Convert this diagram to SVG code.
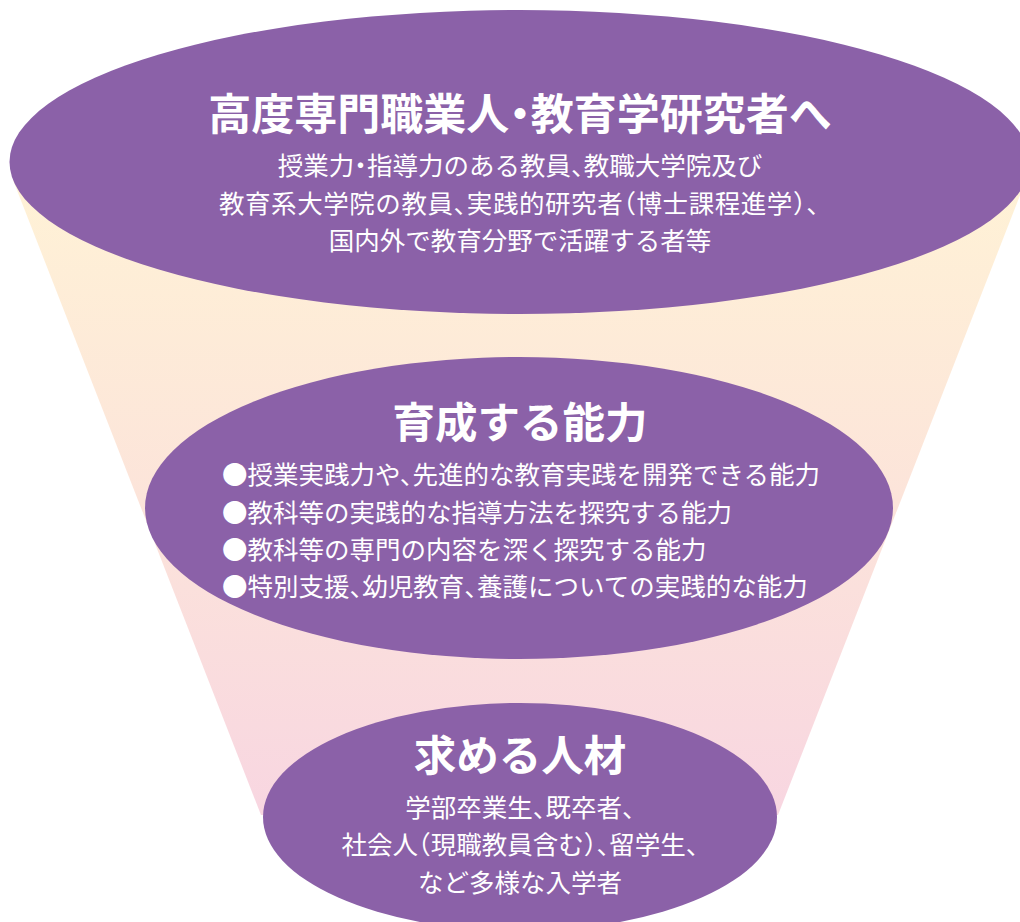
<svg xmlns="http://www.w3.org/2000/svg" width="1020" height="922" viewBox="0 0 1020 922">
  <defs>
    <linearGradient id="funnelGrad" x1="0" y1="180" x2="0" y2="815" gradientUnits="userSpaceOnUse">
      <stop offset="0" stop-color="#FFF2D6"/>
      <stop offset="0.5" stop-color="#FCE4DA"/>
      <stop offset="1" stop-color="#F8D6E1"/>
    </linearGradient>
  </defs>
  <style>
    .bubble { fill: #8B61A8; }
    .title { font-family: "Noto Sans CJK JP", "Noto Sans CJK SC", sans-serif; font-weight: 700; fill: #FFFFFF; font-feature-settings: "halt"; }
    .body { font-family: "Noto Sans CJK JP", "Noto Sans CJK SC", sans-serif; font-weight: 400; font-size: 25.5px; fill: #FFFFFF; font-feature-settings: "halt"; }
    .mid { text-anchor: middle; }
  </style>
  <rect x="0" y="0" width="1020" height="922" fill="#FFFFFF"/>
  <g id="funnel">
    <polygon points="13,180 1026,180 778,815 261,815" fill="url(#funnelGrad)"/>
  </g>
  <g id="node-top">
    <ellipse class="bubble" cx="519.5" cy="162" rx="510" ry="152"/>
    <text class="title mid" x="520" y="129.5" font-size="43">高度専門職業人・教育学研究者へ</text>
    <text class="body mid" x="520" y="175">授業力・指導力のある教員、教職大学院及び</text>
    <text class="body mid" x="519" y="213" textLength="600" lengthAdjust="spacing">教育系大学院の教員、実践的研究者（博士課程進学）、</text>
    <text class="body mid" x="520" y="250">国内外で教育分野で活躍する者等</text>
  </g>
  <g id="node-middle">
    <ellipse class="bubble" cx="519" cy="508" rx="374" ry="151"/>
    <text class="title mid" x="520" y="438" font-size="42.5">育成する能力</text>
    <text class="body" x="222" y="484">●授業実践力や、先進的な教育実践を開発できる能力</text>
    <text class="body" x="222" y="522">●教科等の実践的な指導方法を探究する能力</text>
    <text class="body" x="222" y="559">●教科等の専門の内容を深く探究する能力</text>
    <text class="body" x="222" y="596">●特別支援、幼児教育、養護についての実践的な能力</text>
  </g>
  <g id="node-bottom">
    <ellipse class="bubble" cx="520" cy="817" rx="257" ry="114"/>
    <text class="title mid" x="520" y="771" font-size="42.5">求める人材</text>
    <text class="body mid" x="520" y="817">学部卒業生、既卒者、</text>
    <text class="body mid" x="520" y="854">社会人（現職教員含む）、留学生、</text>
    <text class="body mid" x="520" y="892">など多様な入学者</text>
  </g>
  <g id="connectors"></g>
</svg>
